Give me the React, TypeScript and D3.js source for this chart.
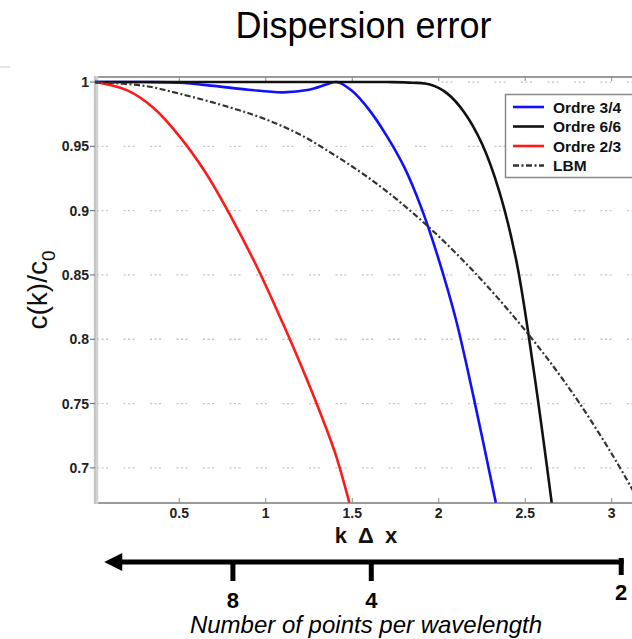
import React from "react";
import * as d3 from "d3";

const W = 632;
const H = 639;

const title = "Dispersion error";
const xTicks = [0.5, 1, 1.5, 2, 2.5, 3];
const xTickLabels = ["0.5", "1", "1.5", "2", "2.5", "3"];
const yTicks = [0.7, 0.75, 0.8, 0.85, 0.9, 0.95, 1];
const yTickLabels = ["0.7", "0.75", "0.8", "0.85", "0.9", "0.95", "1"];
const xDomain = [0.0127, Math.PI];
const yDomain = [0.6727, 1.0047];

// Ordre 3/4 (blue)
const blueK = [0.0127, 0.3, 0.5, 0.7, 0.9, 1.1, 1.25, 1.35, 1.41, 1.5, 1.6, 1.7, 1.8, 1.9, 2.0, 2.1, 2.2, 2.33];
const blueV = [1.0, 1.0, 0.9995, 0.997, 0.994, 0.992, 0.994, 0.998, 1.0, 0.993, 0.978, 0.958, 0.934, 0.902, 0.862, 0.815, 0.756, 0.673];
// Ordre 6/6 (black)
const blackK = [0.0127, 1.0, 1.7, 1.85, 1.95, 2.05, 2.15, 2.25, 2.35, 2.45, 2.55, 2.653];
const blackV = [1.0, 1.0, 1.0, 0.9995, 0.998, 0.991, 0.976, 0.952, 0.915, 0.86, 0.775, 0.673];
// Ordre 2/3 (red)
const redK = [0.0127, 0.2, 0.35, 0.5, 0.65, 0.8, 0.95, 1.1, 1.2, 1.3, 1.4, 1.483];
const redV = [1.0, 0.9935, 0.98, 0.958, 0.93, 0.895, 0.856, 0.812, 0.781, 0.748, 0.712, 0.673];
// LBM (dash-dot)
const lbmK = [0.0127, 0.3, 0.5, 0.8, 1.0, 1.2, 1.4, 1.6, 1.8, 2.0, 2.2, 2.4, 2.6, 2.8, 3.0, 3.1416];
const lbmV = [1.0, 0.997, 0.991, 0.98, 0.971, 0.959, 0.943, 0.925, 0.904, 0.88, 0.853, 0.823, 0.79, 0.753, 0.711, 0.678];

const legendLabels = ["Ordre 3/4", "Ordre 6/6", "Ordre 2/3", "LBM"];
const legendColors = ["#1010ff", "#111111", "#ff1a1a", "#333333"];

// Points-per-wavelength annotation (positions read in kΔx units)
const pptLabels = ["8", "4", "2"];
const pptK = [0.81, 1.61, 3.055];
const arrowStartK = 0.066;

export default function App() {
  const x = d3.scaleLinear().domain(xDomain).range([95, 636.2]);
  const y = d3.scaleLinear().domain(yDomain).range([503, 76]);
  const line = d3
    .line<[number, number]>()
    .x((d) => x(d[0]))
    .y((d) => y(d[1]))
    .curve(d3.curveCatmullRom.alpha(0.5));
  const mk = (ks: number[], vs: number[]) => line(ks.map((k, i) => [k, vs[i]] as [number, number])) || "";

  const series = [
    { d: mk(blueK, blueV), color: legendColors[0], dash: undefined, w: 2.6 },
    { d: mk(blackK, blackV), color: legendColors[1], dash: undefined, w: 2.6 },
    { d: mk(redK, redV), color: legendColors[2], dash: undefined, w: 2.6 },
    { d: mk(lbmK, lbmV), color: legendColors[3], dash: "6,2.5,2,2.5", w: 2.2 },
  ];

  const font = "'Liberation Sans', Arial, Helvetica, sans-serif";
  const gridDash = "2,2.5,2,2.5,2,15.5";

  return (
    <svg width={W} height={H} style={{ position: "absolute", left: 0, top: 0, background: "#fff" }} fontFamily={font}>
      <defs>
        <clipPath id="plot">
          <rect x={95} y={76} width={541} height={427} />
        </clipPath>
      </defs>
      <rect x={0} y={0} width={W} height={H} fill="#fff" />
      <line x1={0} x2={10} y1={67} y2={67} stroke="#ddd" strokeWidth={1.5} />

      <text x={363.5} y={38} fontSize={36} textAnchor="middle" fill="#000">{title}</text>

      {/* grid */}
      {yTicks.map((t) => (
        <line key={"g" + t} x1={97} x2={636} y1={y(t)} y2={y(t)} stroke="#c4c4c4" strokeWidth={1.3} strokeDasharray={gridDash} />
      ))}

      {/* frame */}
      <line x1={95} x2={636} y1={77} y2={77} stroke="#9a9a9a" strokeWidth={2} />
      <line x1={95} x2={636} y1={503} y2={503} stroke="#9a9a9a" strokeWidth={2} />
      <line x1={96} x2={96} y1={76} y2={504} stroke="#d2d2d2" strokeWidth={4.5} />
      <line x1={95} x2={95} y1={76} y2={504} stroke="#b8b8b8" strokeWidth={1} />

      {/* x ticks */}
      {xTicks.map((t, i) => (
        <g key={"x" + t}>
          <line x1={x(t)} x2={x(t)} y1={503} y2={498} stroke="#888" strokeWidth={1} />
          <line x1={x(t)} x2={x(t)} y1={77} y2={81} stroke="#888" strokeWidth={1} />
          <text x={x(t)} y={518} fontSize={14} fontWeight="bold" textAnchor="middle" fill="#222">{xTickLabels[i]}</text>
        </g>
      ))}
      {/* y ticks */}
      {yTicks.map((t, i) => (
        <g key={"y" + t}>
          <line x1={90} x2={95} y1={y(t)} y2={y(t)} stroke="#666" strokeWidth={1} />
          <text x={89} y={y(t) + 5} fontSize={14} fontWeight="bold" textAnchor="end" fill="#222">{yTickLabels[i]}</text>
        </g>
      ))}

      {/* series */}
      <g clipPath="url(#plot)">
        {series.map((s, i) => (
          <path key={i} d={s.d} fill="none" stroke={s.color} strokeWidth={s.w} strokeDasharray={s.dash} strokeLinejoin="round" />
        ))}
      </g>

      {/* legend */}
      <rect x={505.5} y={94.5} width={135} height={83} fill="#fff" stroke="#888" strokeWidth={1.5} />
      {legendLabels.map((lab, i) => (
        <g key={lab}>
          <line x1={513} x2={544} y1={107 + i * 19.5} y2={107 + i * 19.5} stroke={legendColors[i]} strokeWidth={2.6} strokeDasharray={i === 3 ? "6,2.5,2,2.5" : undefined} />
          <text x={553} y={107 + i * 19.5 + 5.5} fontSize={15.5} fontWeight="bold" fill="#111">{lab}</text>
        </g>
      ))}

      {/* axis labels */}
      <text transform="translate(47,290) rotate(-90)" fontSize={28} textAnchor="middle" fill="#111">
        c(k)/c<tspan dy={8} fontSize={19}>0</tspan>
      </text>
      <text x={366} y={543} fontSize={22} fontWeight="bold" textAnchor="middle" fill="#111" wordSpacing={5} style={{ whiteSpace: "pre" }}>k Δ x</text>

      {/* points-per-wavelength arrow */}
      <line x1={x(arrowStartK) + 14} x2={x(pptK[2]) + 2.5} y1={562} y2={562} stroke="#000" strokeWidth={5} />
      <path d={`M${x(arrowStartK)},562 L${x(arrowStartK) + 18},553 L${x(arrowStartK) + 18},571 Z`} fill="#000" />
      {pptK.map((k, i) => (
        <g key={"p" + i}>
          <line x1={x(k)} x2={x(k)} y1={i === 2 ? 558 : 562} y2={i === 2 ? 575 : 581} stroke="#000" strokeWidth={5} />
          <text x={x(k)} y={i === 2 ? 600 : 608} fontSize={22} fontWeight="bold" textAnchor="middle" fill="#000">{pptLabels[i]}</text>
        </g>
      ))}
      <text x={366} y={633} fontSize={24} fontStyle="italic" textAnchor="middle" fill="#000">Number of points per wavelength</text>
    </svg>
  );
}
